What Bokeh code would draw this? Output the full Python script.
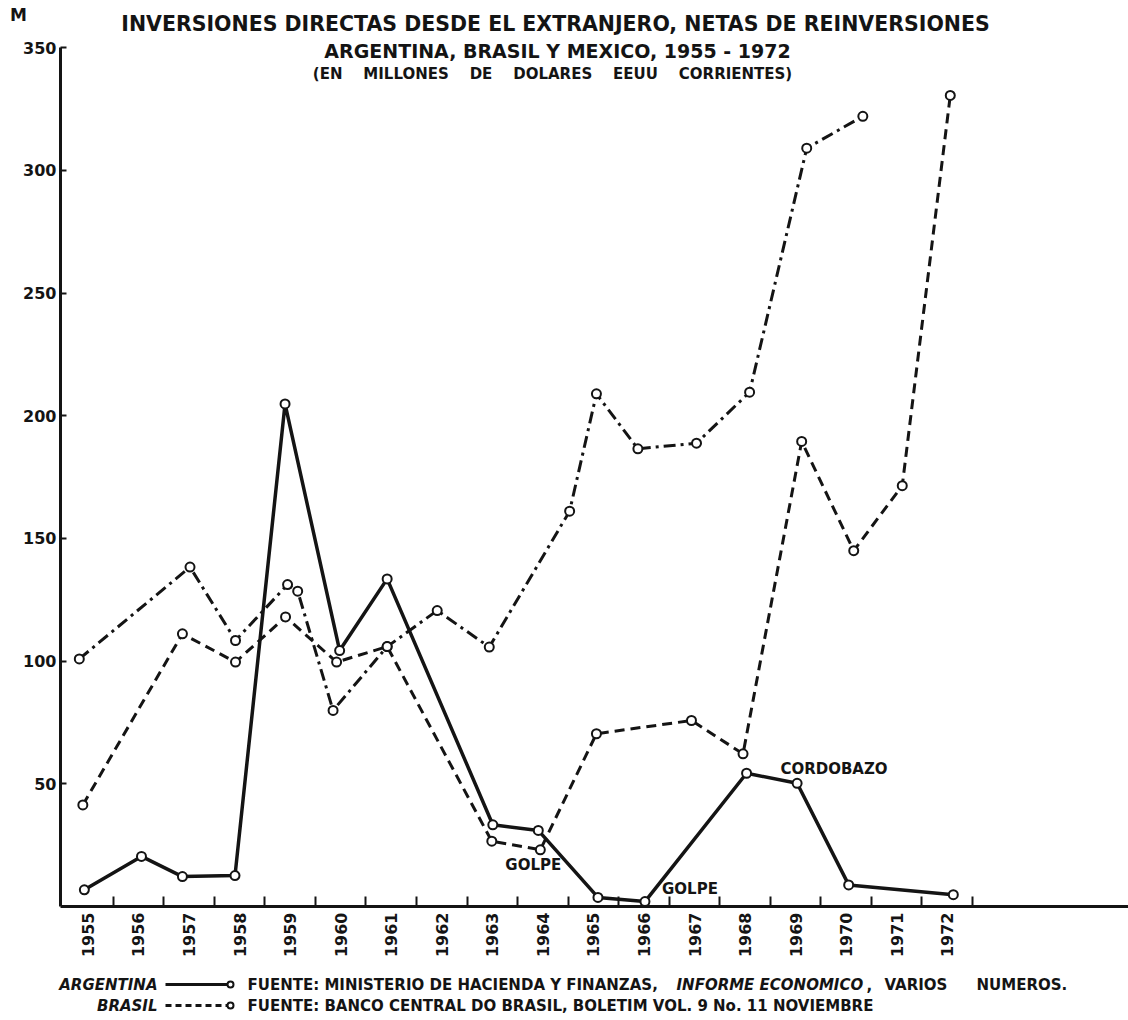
import math
from bokeh.plotting import figure
from bokeh.models import Range1d, FixedTicker, Label
from bokeh.embed import file_html
from bokeh.resources import INLINE

# ---------------- data (positions) ----------------
year_labels = list(range(1955, 1973))
y_ticks = [50, 100, 150, 200, 250, 300, 350]

# Argentina (solid)
arg_x = [1954.93, 1956.06, 1956.87, 1957.91, 1958.90, 1959.98, 1960.92, 1963.01,
         1963.91, 1965.09, 1966.02, 1968.03, 1969.03, 1970.05, 1972.12]
arg_y = [6.8, 20.4, 12.2, 12.6, 204.8, 104.3, 133.5, 33.3,
         31.0, 3.7, 2.0, 54.3, 50.2, 8.8, 4.8]

# Brasil (dashed)
bra_x = [1954.90, 1956.87, 1957.92, 1958.91, 1959.92, 1960.92, 1962.99, 1963.95,
         1965.06, 1966.94, 1967.96, 1969.12, 1970.15, 1971.11, 1972.06]
bra_y = [41.4, 111.1, 99.6, 118.0, 99.6, 105.9, 26.6, 23.1,
         70.4, 75.8, 62.2, 189.5, 145.0, 171.5, 330.5]

# Mexico (dash-dot)
mex_x = [1954.83, 1957.02, 1957.92, 1958.95, 1959.15, 1959.85, 1960.92, 1961.91,
         1962.94, 1964.53, 1965.06, 1965.88, 1967.04, 1968.09, 1969.22, 1970.33]
mex_y = [100.9, 138.3, 108.4, 131.2, 128.5, 79.9, 105.9, 120.6,
         105.7, 161.1, 208.9, 186.5, 188.8, 209.6, 309.0, 322.0]

# annotations: (text, x, y)
notes = [("CORDOBAZO", 1969.76, 56.2), ("GOLPE", 1963.81, 17.1), ("GOLPE", 1966.91, 7.3)]

NB = "\u00a0"
title_lines = [
    "INVERSIONES DIRECTAS DESDE EL EXTRANJERO, NETAS DE REINVERSIONES",
    "ARGENTINA, BRASIL Y MEXICO, 1955 - 1972",
    (NB * 4).join(["(EN", "MILLONES", "DE", "DOLARES", "EEUU", "CORRIENTES)"]),
]

INK = "#141414"
FONT = "DejaVu Sans"
W, H = 1128, 1020

# page geometry of the drawing: axis origin, scale
X0_PX, YEAR0, XS = 87.4, 1955.0, 50.55     # px of 1955, px per year
Y0_PX, YS = 906.0, 2.454                    # px of value 0, px per unit


def sx(px):
    """page pixel -> year coordinate (for placing annotations)"""
    return YEAR0 + (px - X0_PX) / XS


def sy(py):
    """page pixel -> value coordinate (for placing annotations)"""
    return (Y0_PX - py) / YS


AXIS_X = sx(60)

p = figure(width=W, height=H, output_backend="svg", toolbar_location=None,
           x_range=Range1d(sx(0), sx(W)), y_range=Range1d(sy(H), sy(0)),
           min_border_left=0, min_border_right=0, min_border_top=0, min_border_bottom=0)
p.outline_line_color = None
p.xgrid.visible = False
p.ygrid.visible = False
p.background_fill_color = "white"

# y axis
ya = p.yaxis[0]
ya.fixed_location = AXIS_X
ya.ticker = FixedTicker(ticks=y_ticks)
ya.bounds = (0, 350)
ya.axis_line_width = 3
ya.axis_line_color = INK
ya.major_tick_in = 6
ya.major_tick_out = 0
ya.major_tick_line_width = 2
ya.major_tick_line_color = INK
ya.minor_tick_in = 0
ya.minor_tick_out = 0
ya.major_label_standoff = 4
ya.major_label_text_font = FONT
ya.major_label_text_font_style = "bold"
ya.major_label_text_font_size = "16px"
ya.major_label_text_color = INK

# x axis: labels at years, small ticks between the years
xa = p.xaxis[0]
xa.fixed_location = 0
xa.bounds = (AXIS_X, sx(W))
xa.ticker = FixedTicker(ticks=year_labels, minor_ticks=[y + 0.5 for y in year_labels])
xa.axis_line_width = 3
xa.axis_line_color = INK
xa.major_tick_in = 0
xa.major_tick_out = 0
xa.minor_tick_in = 10
xa.minor_tick_out = 0
xa.minor_tick_line_width = 2
xa.minor_tick_line_color = INK
xa.major_label_orientation = math.pi / 2
xa.major_label_standoff = 6
xa.major_label_text_font = FONT
xa.major_label_text_font_style = "bold"
xa.major_label_text_font_size = "16px"
xa.major_label_text_color = INK

# series lines
p.line(mex_x, mex_y, line_width=3, line_color=INK, line_dash="12 5 3 5")
p.line(bra_x, bra_y, line_width=3, line_color=INK, line_dash="10 6")
p.line(arg_x, arg_y, line_width=3.5, line_color=INK)
for xs, ys in ((mex_x, mex_y), (bra_x, bra_y), (arg_x, arg_y)):
    p.scatter(xs, ys, marker="circle", size=9, fill_color="white",
              line_color=INK, line_width=2)


def add_text(txt, x, y, size, style="bold", align="center"):
    p.add_layout(Label(x=x, y=y, text=txt, text_font=FONT, text_font_style=style,
                       text_font_size=size, text_color=INK,
                       text_align=align, text_baseline="middle"))


# annotations
for txt, x, y in notes:
    add_text(txt, x, y, "15px")

# title lines
title_pos = [(sx(555), sy(23), "20.5px"), (sx(557), sy(50), "19px"), (sx(552), sy(73), "15px")]
for txt, (x, y, fs) in zip(title_lines, title_pos):
    add_text(txt, x, y, fs)

# unit label
add_text("M", sx(18), sy(14), "17px")

# ---------------- legend / sources ----------------
row_y = [sy(984), sy(1005)]
leg_names = ["ARGENTINA", "BRASIL"]
leg_dash = ["solid", "6 4"]
sample_x = [sx(165), sx(230)]

for name, ry, dash in zip(leg_names, row_y, leg_dash):
    add_text(name, sx(157), ry, "15px", style="bold italic", align="right")
    p.line(sample_x, [ry, ry], line_width=3, line_color=INK, line_dash=dash)
    p.scatter([sample_x[-1]], [ry], marker="circle", size=6, fill_color="white",
              line_color=INK, line_width=2)

src_pieces = [
    ("FUENTE: MINISTERIO DE HACIENDA Y FINANZAS,", 247, 0, "bold"),
    ("INFORME ECONOMICO", 676, 0, "bold italic"),
    (",", 866, 0, "bold"),
    ("VARIOS", 884, 0, "bold"),
    ("NUMEROS.", 976, 0, "bold"),
    ("FUENTE: BANCO CENTRAL DO BRASIL, BOLETIM VOL. 9 No. 11 NOVIEMBRE", 247, 1, "bold"),
]
for txt, px, row, st in src_pieces:
    add_text(txt, sx(px), row_y[row], "15px", style=st, align="left")

open("out.html", "w").write(file_html(p, INLINE))
